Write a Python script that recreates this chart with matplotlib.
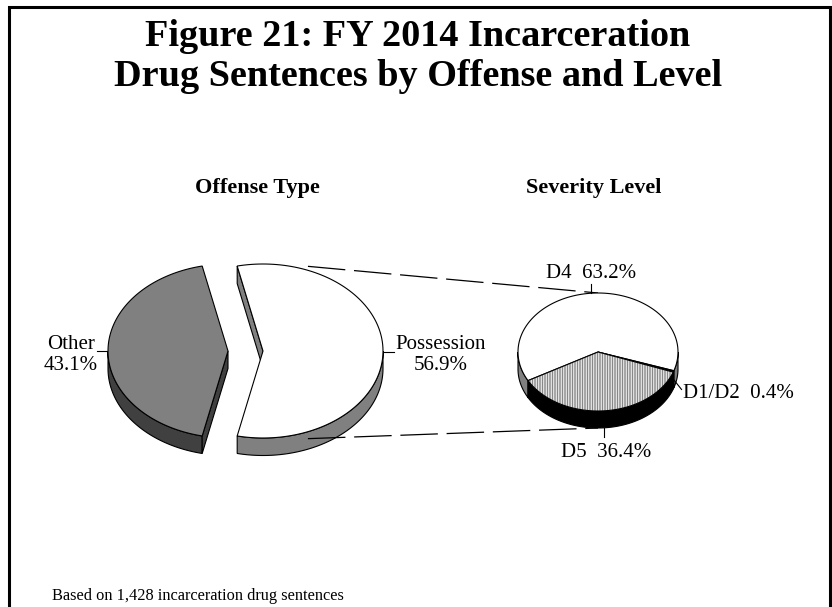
import numpy as np
import matplotlib.pyplot as plt
from matplotlib.patches import Polygon

plt.rcParams['font.family'] = ['Liberation Serif', 'DejaVu Serif']
plt.rcParams['hatch.linewidth'] = 0.5

# main pie: offense type
offense = ["Other", "Possession"]
offense_pct = [43.1, 56.9]
# secondary pie: severity level of possession sentences (clockwise from top)
level = ["D4", "D1/D2", "D5"]
level_pct = [63.2, 0.4, 36.4]
n_sentences = "1,428"


def pie3d(ax, cx, cy, R, r, depth, pct, start, tops, sides, explode=0.0, hatches=None):
    """Draw a tilted pie with a side wall; slices run clockwise from `start` (deg)."""
    if hatches is None:
        hatches = [None] * len(pct)
    info = []
    a_hi = start
    for p, ftop, fside, htc in zip(pct, tops, sides, hatches):
        a_lo = a_hi - 360 * p / 100
        mid = np.radians((a_lo + a_hi) / 2)
        ox = cx + explode * np.cos(mid)
        oy = cy - explode * np.sin(mid) * r / R

        def arc(t1, t2, dy=0.0):
            t = np.radians(np.linspace(t1, t2, 120))
            return np.column_stack([ox + R * np.cos(t), oy - r * np.sin(t) + dy])

        # outer wall, only the front half shows
        b1 = a_lo % 360
        b2 = b1 + (a_hi - a_lo)
        for lo, hi in ((180, 360), (540, 720)):
            s, e = max(b1, lo), min(b2, hi)
            if e > s:
                wall = np.vstack([arc(s, e), arc(s, e, depth)[::-1]])
                ax.add_patch(Polygon(wall, closed=True, facecolor=fside,
                                     edgecolor='black', lw=0.8, zorder=2))
        # cut faces of an exploded slice
        if explode > 0:
            for ang, vis in ((a_lo, np.cos(np.radians(a_lo)) > 0),
                             (a_hi, np.cos(np.radians(a_hi)) < 0)):
                if vis:
                    ex, ey = arc(ang, ang)[0]
                    face = [(ex, ey), (ox, oy), (ox, oy + depth), (ex, ey + depth)]
                    ax.add_patch(Polygon(face, closed=True, facecolor=fside,
                                         edgecolor='black', lw=0.8, zorder=2))
        top = np.vstack([[ox, oy], arc(a_lo, a_hi)])
        if htc:
            ax.add_patch(Polygon(top, closed=True, facecolor=ftop, edgecolor='#555555',
                                 lw=0, hatch=htc, zorder=3))
            ax.add_patch(Polygon(top, closed=True, fill=False, edgecolor='black',
                                 lw=0.8, zorder=3))
        else:
            ax.add_patch(Polygon(top, closed=True, facecolor=ftop, edgecolor='black',
                                 lw=0.8, zorder=3))
        info.append((ox, oy, np.degrees(mid)))
        a_hi = a_lo
    return info


fig = plt.figure(figsize=(8.32, 6.07), dpi=100)
ax = fig.add_axes([0, 0, 1, 1])
ax.set_xlim(0, 832)
ax.set_ylim(607, 0)
ax.axis('off')

# frame (open at the bottom)
ax.plot([8.5, 8.5, 829.5, 829.5], [607, 6.5, 6.5, 607], color='black', lw=2.2,
        solid_joinstyle='miter', zorder=5)

ax.text(418, 46, "Figure 21: FY 2014 Incarceration", ha='center', va='baseline',
        fontsize=27.5, fontweight='bold')
ax.text(418, 86, "Drug Sentences by Offense and Level", ha='center', va='baseline',
        fontsize=27.5, fontweight='bold')
ax.text(257, 193, "Offense Type", ha='center', va='baseline', fontsize=16, fontweight='bold')
ax.text(594, 193, "Severity Level", ha='center', va='baseline', fontsize=16, fontweight='bold')

# main pie
R1, r1, d1 = 120, 87, 17.5
cx1, cy1 = 245.5, 351
start1 = 180 + 360 * offense_pct[0] / 200
main = pie3d(ax, cx1, cy1, R1, r1, d1, offense_pct, start1,
             tops=['#808080', 'white'], sides=['#404040', '#808080'], explode=17.5)

# secondary pie
R2, r2, d2 = 80, 59, 17
cx2, cy2 = 598, 352
start2 = 209
sec = pie3d(ax, cx2, cy2, R2, r2, d2, level_pct, start2,
            tops=['white', 'black', 'white'], sides=['#808080', 'black', 'black'],
            hatches=[None, None, '||||||||||'])

# series lines between the pies
px, py, _ = main[1]
t = np.radians(68)
ax.plot([px + R1 * np.cos(t), cx2], [py - r1 * np.sin(t) - 4, cy2 - r2],
        color='black', lw=0.9, ls=(0, (30, 7)), zorder=1)
ax.plot([px + R1 * np.cos(t), cx2], [py + r1 * np.sin(t) + 7, cy2 + r2 + d2],
        color='black', lw=0.9, ls=(0, (30, 7)), zorder=4)

lab = dict(fontsize=15, multialignment='center')
# main pie labels
gx, gy, _ = main[0]
ax.plot([gx - R1, gx - R1 - 11], [gy, gy], color='black', lw=0.8)
ax.text(gx - R1 - 10, gy + 4, f"{offense[0]}\n{offense_pct[0]}%", ha='right', va='center', **lab)
ax.plot([px + R1, px + R1 + 11], [py + 1, py + 1], color='black', lw=0.8)
ax.text(px + R1 + 12, py + 4, f"{offense[1]}\n{offense_pct[1]}%", ha='left', va='center', **lab)

# secondary pie labels
for (ox, oy, m), name, p in zip(sec, level, level_pct):
    tx = ox + R2 * np.cos(np.radians(m))
    ty = oy - r2 * np.sin(np.radians(m))
    txt = f"{name}  {p}%"
    if name == "D4":
        ax.plot([tx, tx], [ty, ty - 9], color='black', lw=0.8, zorder=4)
        ax.text(tx, ty - 15, txt, ha='center', va='baseline', **lab)
    elif name == "D5":
        ax.plot([tx, tx], [ty + d2, ty + d2 + 9], color='black', lw=0.8, zorder=4)
        ax.text(tx + 2, ty + d2 + 29, txt, ha='center', va='baseline', **lab)
    else:
        ax.plot([tx, tx + 8], [ty + 8, ty + 18], color='black', lw=0.8, zorder=4)
        ax.text(tx + 9, ty + 27, txt, ha='left', va='baseline', **lab)

ax.text(52, 600, f"Based on {n_sentences} incarceration drug sentences",
        ha='left', va='baseline', fontsize=11.8)

fig.savefig("out.png", dpi=100)
